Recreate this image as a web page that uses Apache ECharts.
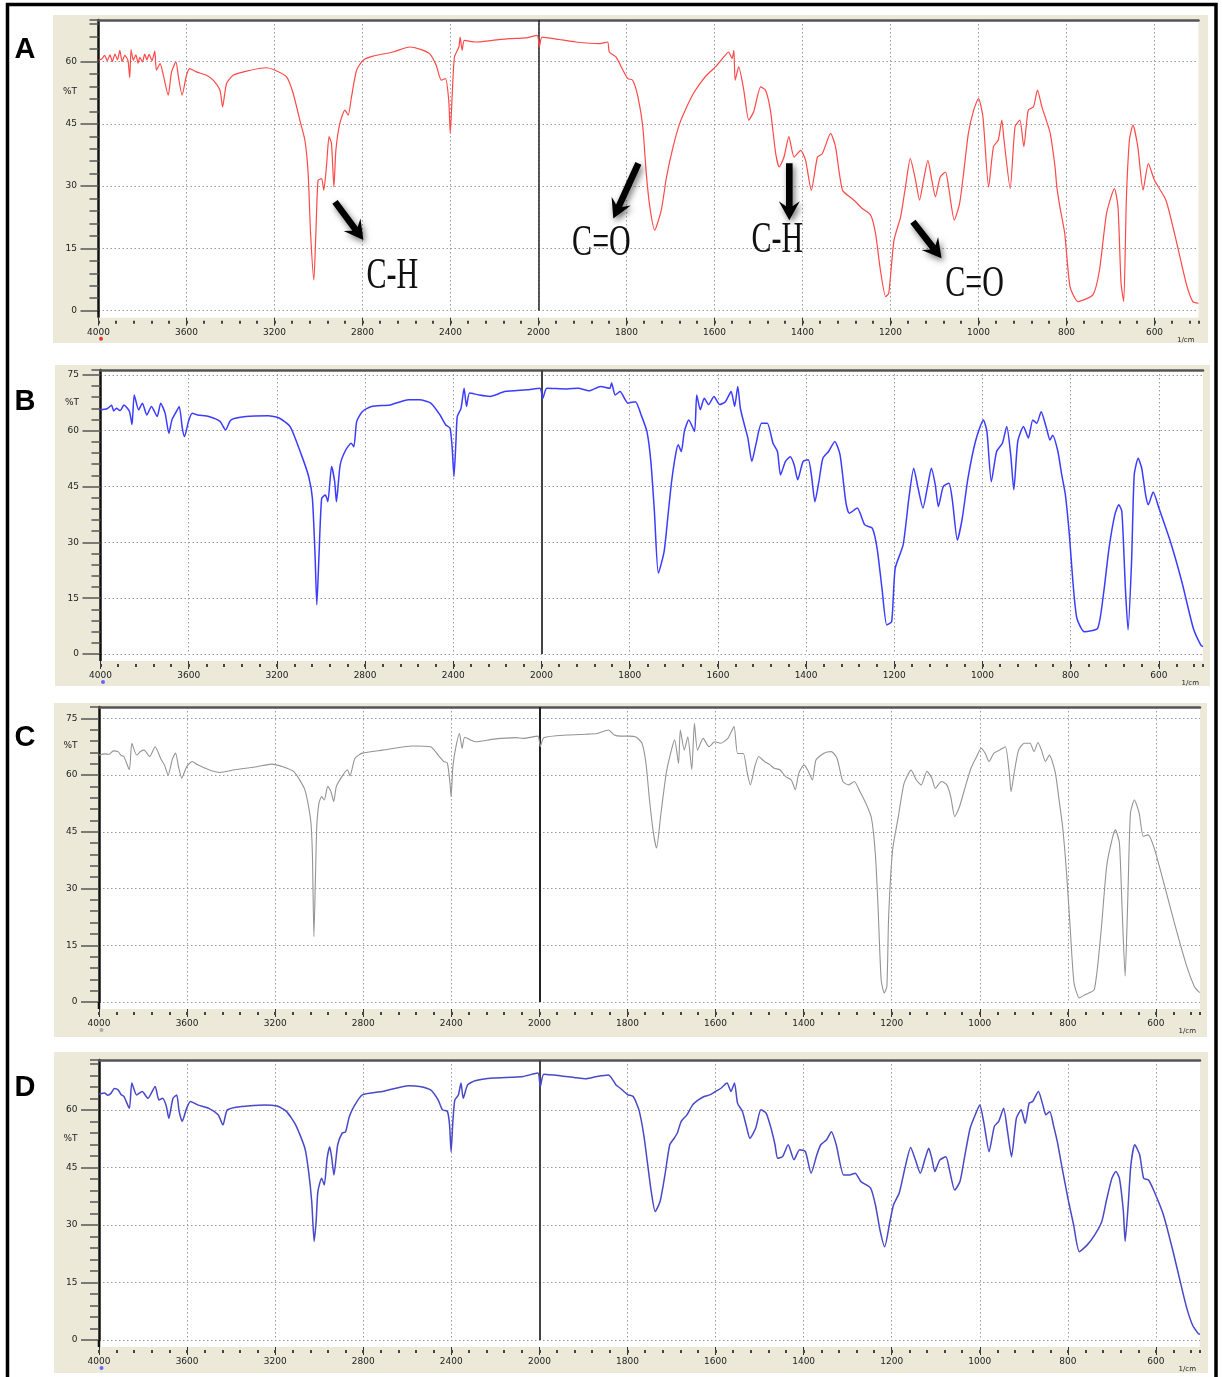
<!DOCTYPE html>
<html><head><meta charset="utf-8">
<script src="https://cdn.jsdelivr.net/npm/echarts@6/dist/echarts.min.js"></script>
<style>html,body{margin:0;padding:0;background:#fff;}#c{width:1222px;height:1377px;}</style>
</head><body><div id="c"></div>
<script>
// FTIR spectra: [wavenumber (1/cm), %T]
const specA = [[4000,60.3],[3985,60.6],[3972,61.5],[3960,60.2],[3948,61.6],[3937,60.0],[3925,61.8],[3914,60.4],[3903,62.7],[3893,60.0],[3880,61.5],[3866,60.2],[3858,56.1],[3852,62.9],[3842,60.3],[3830,61.6],[3820,59.6],[3812,61.0],[3800,59.9],[3790,61.8],[3780,60.4],[3770,61.7],[3757,60.2],[3744,62.5],[3737,57.9],[3720,59.5],[3706,56.9],[3683,51.9],[3668,57.5],[3648,59.9],[3637,56.4],[3620,51.9],[3600,56.7],[3585,58.3],[3555,57.5],[3509,56.7],[3479,55.5],[3448,53.1],[3436,49.1],[3418,54.7],[3388,56.7],[3327,57.7],[3236,58.5],[3197,57.9],[3145,56.3],[3115,52.3],[3085,45.9],[3062,41.1],[3047,33.0],[3036,18.6],[3021,7.4],[3012,18.6],[3002,31.4],[2986,31.8],[2976,29.0],[2964,34.6],[2952,41.9],[2941,40.3],[2930,29.8],[2921,38.6],[2903,45.1],[2880,48.3],[2865,47.1],[2850,51.5],[2827,57.9],[2797,60.3],[2752,61.3],[2661,62.3],[2585,63.5],[2540,63.0],[2495,61.9],[2465,59.1],[2442,55.5],[2423,55.9],[2408,50.7],[2401,42.7],[2392,52.3],[2382,61.1],[2362,63.5],[2356,65.9],[2347,62.7],[2337,65.1],[2284,64.7],[2209,65.1],[2134,65.5],[2059,65.7],[2006,66.3],[1998,63.5],[1992,65.9],[1953,65.3],[1915,64.7],[1862,64.3],[1843,64.7],[1839,62.3],[1824,61.1],[1808,57.9],[1797,55.9],[1786,55.5],[1774,51.5],[1763,44.3],[1755,33.0],[1747,25.0],[1736,19.4],[1721,24.2],[1709,32.2],[1694,39.5],[1679,45.1],[1663,49.1],[1648,52.3],[1633,54.7],[1618,56.7],[1598,58.7],[1579,61.1],[1568,62.3],[1560,60.7],[1556,62.7],[1553,55.5],[1545,58.7],[1534,53.5],[1522,45.9],[1511,47.9],[1495,53.9],[1484,53.1],[1473,48.3],[1461,37.9],[1453,34.6],[1442,37.0],[1431,41.9],[1419,37.0],[1404,38.6],[1393,36.2],[1380,29.0],[1366,37.0],[1355,37.8],[1336,42.7],[1325,39.5],[1309,29.0],[1283,26.6],[1264,24.6],[1245,23.0],[1234,18.6],[1223,9.8],[1211,3.4],[1204,4.2],[1192,17.0],[1177,22.6],[1166,29.8],[1155,36.6],[1143,31.4],[1134,26.6],[1125,31.4],[1115,36.2],[1106,31.4],[1098,27.4],[1087,32.2],[1075,33.4],[1068,29.8],[1055,21.8],[1043,25.8],[1034,33.0],[1023,42.7],[1011,48.3],[1000,51.1],[990,46.7],[977,29.8],[966,39.5],[955,41.1],[947,45.9],[942,41.1],[928,29.4],[917,44.3],[906,45.9],[897,39.5],[887,48.3],[875,49.1],[866,53.1],[856,49.1],[846,45.9],[837,42.7],[826,34.6],[822,29.8],[815,25.0],[804,18.6],[792,5.8],[774,2.2],[740,3.8],[725,9.8],[709,23.4],[691,29.4],[683,25.0],[676,6.6],[670,2.2],[664,26.6],[657,41.1],[649,44.7],[638,39.5],[626,29.0],[614,35.4],[600,31.4],[574,26.6],[551,17.0],[528,6.6],[513,2.2],[500,1.8]];

const specB = [[4000,65.6],[3970,65.9],[3950,66.8],[3940,65.3],[3928,66.0],[3910,65.4],[3894,66.9],[3869,65.2],[3857,61.6],[3847,69.6],[3827,65.6],[3810,67.4],[3790,64.2],[3769,66.5],[3743,63.8],[3727,67.4],[3707,64.7],[3690,59.3],[3676,62.9],[3660,64.7],[3643,66.5],[3629,60.7],[3619,58.4],[3601,62.5],[3584,64.7],[3559,64.2],[3509,63.8],[3458,62.5],[3433,60.2],[3408,62.9],[3341,63.8],[3240,64.0],[3190,63.4],[3140,61.1],[3089,53.5],[3056,47.7],[3039,41.8],[3027,26.6],[3019,13.2],[3009,26.6],[2997,41.8],[2980,42.7],[2969,40.9],[2952,50.4],[2938,46.3],[2930,40.9],[2913,50.8],[2888,54.8],[2863,56.6],[2851,55.7],[2838,62.5],[2813,65.1],[2771,66.5],[2687,66.9],[2603,68.3],[2553,68.3],[2502,67.4],[2460,64.2],[2435,61.6],[2415,60.7],[2405,55.3],[2397,47.7],[2388,57.1],[2382,63.8],[2365,66.0],[2351,71.4],[2340,66.5],[2326,70.1],[2284,69.6],[2234,69.2],[2167,70.5],[2066,71.0],[2007,71.4],[1997,68.7],[1988,71.4],[1942,71.2],[1917,71.4],[1892,70.7],[1866,71.9],[1845,71.4],[1841,72.8],[1833,69.6],[1822,70.5],[1804,67.4],[1787,67.8],[1774,64.2],[1761,59.8],[1752,51.7],[1744,38.3],[1735,21.7],[1722,27.5],[1713,37.4],[1705,46.3],[1696,53.5],[1690,56.2],[1683,54.4],[1676,59.8],[1666,62.9],[1653,59.8],[1648,69.6],[1640,65.6],[1631,68.7],[1621,67.0],[1609,69.2],[1596,67.0],[1583,67.8],[1570,70.5],[1562,66.5],[1555,71.9],[1549,66.0],[1540,61.6],[1532,58.0],[1523,51.7],[1514,56.2],[1501,62.0],[1488,62.0],[1475,56.6],[1465,54.4],[1458,48.1],[1447,51.7],[1436,53.0],[1427,50.8],[1419,46.8],[1407,51.7],[1395,52.2],[1388,48.1],[1380,40.9],[1371,46.3],[1362,52.6],[1349,54.4],[1335,57.1],[1323,53.5],[1310,40.9],[1302,37.8],[1284,39.2],[1267,34.7],[1250,33.8],[1239,28.4],[1228,17.7],[1217,7.8],[1206,8.7],[1198,23.0],[1180,29.3],[1167,41.8],[1156,49.9],[1146,44.5],[1135,39.2],[1124,45.4],[1116,49.9],[1107,45.4],[1100,39.6],[1089,45.0],[1076,45.9],[1068,41.0],[1057,30.6],[1046,36.4],[1033,47.2],[1016,57.1],[998,62.9],[990,59.8],[980,46.3],[968,54.4],[955,56.6],[945,61.1],[936,53.5],[929,44.1],[920,57.1],[907,61.1],[896,58.0],[886,62.9],[877,62.0],[867,65.1],[855,60.7],[847,57.5],[841,58.8],[829,54.4],[821,48.6],[812,42.7],[803,32.0],[795,19.4],[786,9.6],[769,6.0],[739,6.9],[726,15.8],[713,28.5],[700,37.4],[691,40.1],[684,38.3],[676,17.7],[670,6.5],[662,24.8],[656,48.1],[647,52.6],[639,49.9],[630,42.7],[624,40.1],[613,43.5],[600,39.2],[574,30.2],[548,19.4],[522,6.9],[505,2.4],[500,2.0]];

const specC = [[4000,65.3],[3975,65.6],[3955,65.5],[3935,66.4],[3913,66.2],[3900,65.2],[3887,64.9],[3862,61.4],[3851,68.4],[3829,65.3],[3810,66.3],[3795,66.6],[3770,64.9],[3745,67.5],[3720,64.4],[3703,62.7],[3686,60.0],[3666,64.4],[3652,65.8],[3639,62.2],[3624,59.2],[3602,62.2],[3577,63.6],[3552,62.7],[3501,61.4],[3451,60.7],[3384,61.4],[3283,62.2],[3216,62.9],[3165,62.2],[3115,60.9],[3065,56.1],[3039,48.2],[3031,39.3],[3024,17.3],[3018,30.5],[3011,46.4],[3001,52.6],[2989,54.3],[2977,53.4],[2961,57.0],[2947,55.7],[2934,53.0],[2922,57.0],[2897,59.6],[2872,61.4],[2860,59.8],[2838,64.4],[2804,65.8],[2712,66.6],[2578,67.7],[2494,67.5],[2460,65.3],[2435,63.6],[2418,63.2],[2406,57.8],[2401,54.3],[2393,62.2],[2379,67.5],[2363,71.0],[2351,67.1],[2339,70.0],[2292,68.8],[2208,69.5],[2107,69.9],[2074,69.7],[2007,70.3],[1998,67.5],[1990,69.9],[1936,70.6],[1894,70.8],[1869,71.0],[1843,71.9],[1830,70.6],[1815,70.3],[1797,70.3],[1780,70.0],[1767,68.4],[1758,63.1],[1750,53.4],[1741,44.6],[1734,40.7],[1724,49.9],[1712,60.5],[1702,65.8],[1693,69.3],[1684,63.1],[1680,71.9],[1671,66.6],[1663,70.1],[1654,61.4],[1648,73.7],[1641,66.6],[1628,69.7],[1615,67.5],[1602,68.8],[1589,68.4],[1572,69.7],[1558,72.8],[1550,65.7],[1537,65.7],[1528,60.5],[1521,57.4],[1511,62.2],[1502,64.9],[1489,63.6],[1476,62.7],[1467,61.8],[1454,61.4],[1441,59.6],[1428,58.7],[1419,56.1],[1411,60.5],[1399,62.7],[1389,60.9],[1380,58.7],[1372,64.0],[1354,65.8],[1337,66.2],[1324,64.4],[1311,58.3],[1298,57.4],[1285,58.3],[1272,55.6],[1259,52.6],[1246,48.6],[1237,38.9],[1231,25.0],[1224,5.9],[1217,2.4],[1211,4.1],[1207,22.6],[1198,40.2],[1185,49.0],[1172,57.8],[1156,61.3],[1144,58.7],[1133,57.4],[1120,61.0],[1109,59.2],[1101,56.5],[1087,58.3],[1075,57.4],[1066,54.3],[1057,49.0],[1046,51.7],[1033,56.9],[1020,61.8],[1007,64.9],[997,67.1],[988,65.8],[979,63.6],[968,65.8],[955,66.6],[942,67.5],[933,60.5],[929,55.6],[922,60.5],[912,66.6],[899,68.4],[886,68.4],[877,66.2],[868,68.6],[860,66.6],[851,63.6],[842,65.3],[829,60.9],[821,54.3],[812,46.4],[803,34.1],[794,18.2],[786,5.0],[774,1.1],[760,2.0],[740,3.3],[725,18.2],[712,35.8],[699,43.3],[692,45.5],[683,42.0],[677,25.0],[670,6.8],[664,27.0],[658,49.9],[649,53.4],[638,49.9],[629,43.8],[618,44.2],[604,40.7],[582,31.4],[556,20.0],[530,9.4],[513,4.1],[504,2.8],[500,2.5]];

const specD = [[4000,64.1],[3975,64.4],[3960,63.8],[3946,64.3],[3930,65.6],[3913,65.2],[3900,64.0],[3887,63.5],[3862,60.4],[3851,67.0],[3829,63.9],[3804,64.8],[3778,63.0],[3745,66.1],[3728,62.6],[3711,63.0],[3694,60.9],[3683,57.8],[3664,63.0],[3647,63.9],[3636,59.6],[3622,57.0],[3602,60.4],[3585,62.2],[3552,61.3],[3501,60.4],[3459,58.7],[3437,56.1],[3417,60.0],[3350,60.9],[3249,61.3],[3191,61.0],[3149,59.6],[3107,56.1],[3065,50.0],[3048,43.9],[3034,36.1],[3023,25.7],[3014,30.9],[3006,38.7],[2989,42.2],[2977,40.4],[2964,47.4],[2952,50.4],[2943,47.4],[2933,43.0],[2916,50.9],[2896,53.9],[2880,54.3],[2863,58.3],[2838,61.3],[2804,63.9],[2712,64.8],[2594,66.3],[2544,66.1],[2494,65.2],[2460,62.6],[2440,60.0],[2418,59.6],[2408,56.1],[2401,49.1],[2393,56.9],[2384,62.6],[2368,63.9],[2356,67.0],[2346,63.0],[2326,66.5],[2292,67.6],[2208,68.3],[2124,68.5],[2074,68.7],[2007,69.6],[1998,66.1],[1990,69.3],[1953,68.9],[1919,68.4],[1894,68.1],[1869,68.7],[1843,69.1],[1826,66.5],[1817,65.7],[1800,64.0],[1787,63.5],[1774,60.0],[1763,53.5],[1755,46.5],[1746,38.7],[1737,33.5],[1726,36.1],[1715,43.0],[1704,50.9],[1694,52.6],[1687,53.9],[1678,57.0],[1665,58.7],[1652,61.3],[1639,62.6],[1626,63.5],[1613,63.9],[1600,64.8],[1587,65.7],[1574,67.0],[1565,64.8],[1557,67.0],[1550,61.7],[1539,59.6],[1530,55.7],[1522,52.6],[1509,55.2],[1497,60.0],[1485,59.1],[1474,55.2],[1465,50.9],[1459,47.4],[1448,47.8],[1435,50.9],[1422,47.0],[1409,49.6],[1396,49.1],[1383,43.5],[1370,48.3],[1361,50.9],[1348,52.2],[1337,54.3],[1326,50.9],[1309,43.0],[1296,43.0],[1283,43.5],[1270,41.3],[1248,39.6],[1237,35.2],[1226,28.3],[1216,24.3],[1204,30.9],[1196,35.2],[1183,38.3],[1170,44.8],[1157,50.2],[1146,46.9],[1135,43.5],[1124,47.4],[1116,50.0],[1109,47.4],[1102,43.9],[1091,46.9],[1077,47.8],[1068,43.9],[1057,39.1],[1045,41.3],[1035,47.4],[1022,55.2],[1009,59.1],[1000,61.3],[990,56.1],[979,49.1],[967,55.7],[957,57.0],[946,60.4],[937,54.3],[928,47.8],[917,57.8],[906,60.0],[897,56.5],[888,61.7],[880,62.2],[867,64.8],[856,60.9],[850,58.7],[841,59.6],[833,56.1],[824,51.7],[813,44.8],[800,37.0],[787,30.0],[774,23.0],[756,24.8],[739,27.4],[723,30.9],[713,36.1],[700,42.2],[691,43.9],[683,42.2],[674,33.5],[670,25.7],[663,35.2],[657,45.6],[648,50.9],[637,48.3],[628,42.2],[617,41.7],[604,38.7],[583,32.6],[561,23.0],[543,14.3],[530,8.3],[517,3.9],[504,1.7],[500,1.5]];

// annotations on panel A: arrows [tail, head] and labels, in [wavenumber, %T]
const arrowsA = [[[2925,26.2],[2796,17.0]],[[1773,35.5],[1830,22.2]],[[1430,35.5],[1430,21.8]],[[1149,21.4],[1084,12.6]]];
const labelsA = [["C-H",2664,8.1],["C=O",1857,16.1],["C-H",1457,16.8],["C=O",1009,6.2]];

// scale: 4000-2000 at half density of 2000-500 (break at 2000)
const toU = w => (w >= 2000 ? 4000 - w : 2000 + 2 * (2000 - w));
const fromU = u => (u <= 2000 ? 4000 - u : 2000 - (u - 2000) / 2);

const layout = [
  {letter:'A', spec:specA, color:'#ff4848', lw:1.2, left:98.5, right:1198.5, top:20, zero:310.7, ymax:70, beige:[53,15,1208,343], letterY:50, pct:52.7, mark:'#e33', div:'#222', divW:1.5},
  {letter:'B', spec:specB, color:'#3c3cff', lw:1.5, left:100.5, right:1203, top:370, zero:654, ymax:76.3, beige:[55,365,1210,686], letterY:402, pct:67.4, mark:'#66f', div:'#444', divW:2},
  {letter:'C', spec:specC, color:'#949494', lw:1.1, left:99, right:1200, top:707, zero:1002, ymax:78, beige:[54,703,1207,1037], letterY:738, pct:67.7, mark:'#aaa', div:'#222', divW:2},
  {letter:'D', spec:specD, color:'#4848c8', lw:1.5, left:99, right:1200, top:1060, zero:1340, ymax:73, beige:[54,1052,1208,1373], letterY:1088, pct:52.4, mark:'#66f', div:'#444', divW:2}
];

const FONT = 'DejaVu Sans';
const dotted = {color:'#9a9a9a', width:1, type:[1.5,2.5]};
const grids=[], xAxes=[], yAxes=[], series=[], graphics=[];

graphics.push({type:'rect', z:-20, shape:{x:7.5, y:4.5, width:1208.5, height:1390}, style:{fill:'none', stroke:'#000', lineWidth:3.5}});

layout.forEach((p,i)=>{
  const h = p.zero - p.top;
  grids.push({left:p.left, top:p.top, width:p.right - p.left, height:h});
  xAxes.push({gridIndex:i, type:'value', min:0, max:5000, interval:400, position:'bottom', offset:7,
    axisLine:{show:false, onZero:false},
    axisTick:{show:true, length:8, lineStyle:{color:'#333', width:1}},
    axisLabel:{show:true, margin:10, fontSize:9, fontFamily:FONT, color:'#222', showMinLabel:true, showMaxLabel:false,
      formatter:v=>String(Math.round(fromU(v)))},
    splitLine:{show:true, showMinLine:false, showMaxLine:false, lineStyle:dotted}});
  xAxes.push({gridIndex:i, type:'value', min:0, max:5000, interval:80, position:'bottom', offset:10,
    axisLine:{show:false, onZero:false}, axisTick:{show:true, length:3, lineStyle:{color:'#444', width:2}},
    axisLabel:{show:false}, splitLine:{show:false}});
  xAxes.push({gridIndex:i, type:'value', min:0, max:5000, position:'top',
    axisLine:{show:true, onZero:false, lineStyle:{color:'#555', width:2.5}}, axisTick:{show:false},
    axisLabel:{show:false}, splitLine:{show:false}});
  yAxes.push({gridIndex:i, type:'value', min:0, max:p.ymax, interval:15, position:'left',
    axisLine:{show:true, onZero:false, lineStyle:{color:'#111', width:2.5}},
    axisTick:{show:true, length:18, lineStyle:{color:'#555', width:1.5}},
    axisLabel:{show:true, margin:21.5, fontSize:9, fontFamily:FONT, color:'#222', showMinLabel:true, showMaxLabel:false},
    splitLine:{show:true, showMinLine:true, showMaxLine:false, lineStyle:dotted}});
  yAxes.push({gridIndex:i, type:'value', min:0, max:p.ymax, interval:3, position:'left',
    axisLine:{show:false, onZero:false}, axisTick:{show:true, length:9, lineStyle:{color:'#555', width:1.5}},
    axisLabel:{show:false}, splitLine:{show:false}});
  series.push({type:'line', xAxisIndex:3*i, yAxisIndex:2*i, showSymbol:false, symbol:'none', animation:false,
    smooth:0.2,
    data:p.spec.map(d=>[toU(d[0]), d[1]]),
    lineStyle:{color:p.color, width:p.lw}, z:5,
    markLine:{silent:true, symbol:['none','none'], label:{show:false}, animation:false,
      lineStyle:{type:'solid', color:p.div, width:p.divW}, data:[{xAxis:2000}]}});

  const [bx0,by0,bx1,by1] = p.beige;
  graphics.push({type:'rect', z:-10, shape:{x:bx0, y:by0, width:bx1-bx0, height:by1-by0}, style:{fill:'#ece9d8'}});
  graphics.push({type:'rect', z:-5, shape:{x:p.left, y:p.top, width:p.right-p.left, height:h+7}, style:{fill:'#fff'}});
  graphics.push({type:'line', z:3, shape:{x1:p.left, y1:p.zero, x2:p.left, y2:p.zero+7}, style:{stroke:'#111', lineWidth:2.5}});
  graphics.push({type:'text', z:10, x:25, y:p.letterY, style:{text:p.letter, align:'center', verticalAlign:'middle',
    fontSize:29, fontWeight:'bold', fontFamily:'Liberation Sans', fill:'#000'}});
  graphics.push({type:'text', z:10, x:p.left-21.5, y:p.zero - p.pct*h/p.ymax, style:{text:'%T', align:'right', verticalAlign:'middle',
    fontSize:9, fontFamily:FONT, fill:'#222'}});
  graphics.push({type:'text', z:10, x:p.right-4, y:p.zero+29, style:{text:'1/cm', align:'right', verticalAlign:'middle',
    fontSize:7, fontFamily:FONT, fill:'#222'}});
  graphics.push({type:'circle', z:10, shape:{cx:p.left+2.5, cy:p.zero+28, r:2}, style:{fill:p.mark}});
});

const chart = echarts.init(document.getElementById('c'), null, {renderer:'canvas'});
const option = {backgroundColor:'#fff', animation:false, grid:grids, xAxis:xAxes, yAxis:yAxes, series:series, graphic:graphics};
chart.setOption(option);

const px = (w,t) => chart.convertToPixel({seriesIndex:0}, [toU(w), t]);
function arrowShape(t, hd){
  const dx=hd[0]-t[0], dy=hd[1]-t[1], L=Math.hypot(dx,dy);
  const ux=dx/L, uy=dy/L, nx=-uy, ny=ux;
  const sw=3.3, hw=10.5, hl=19, notch=5;
  const b=[hd[0]-ux*hl, hd[1]-uy*hl];
  const bb=[b[0]+ux*notch, b[1]+uy*notch];
  return [[t[0]+nx*sw,t[1]+ny*sw],[bb[0]+nx*sw,bb[1]+ny*sw],[b[0]+nx*hw,b[1]+ny*hw],hd,
          [b[0]-nx*hw,b[1]-ny*hw],[bb[0]-nx*sw,bb[1]-ny*sw],[t[0]-nx*sw,t[1]-ny*sw]];
}
const annot = [];
arrowsA.forEach(a=>{
  const t = px(a[0][0],a[0][1]), hd = px(a[1][0],a[1][1]);
  annot.push({type:'polygon', z:50, shape:{points:arrowShape(t,hd)},
    style:{fill:'#000', shadowBlur:6, shadowColor:'rgba(0,0,0,0.55)', shadowOffsetX:2, shadowOffsetY:3}});
});
labelsA.forEach(l=>{
  const c = px(l[1], l[2]);
  annot.push({type:'text', z:50, x:c[0], y:c[1], scaleY:1.45, style:{text:l[0], x:0, y:0, align:'center', verticalAlign:'middle',
    fontSize:30, fontFamily:'Liberation Serif', fill:'#111'}});
});
chart.setOption({graphic: graphics.concat(annot)});
</script>
</body></html>
